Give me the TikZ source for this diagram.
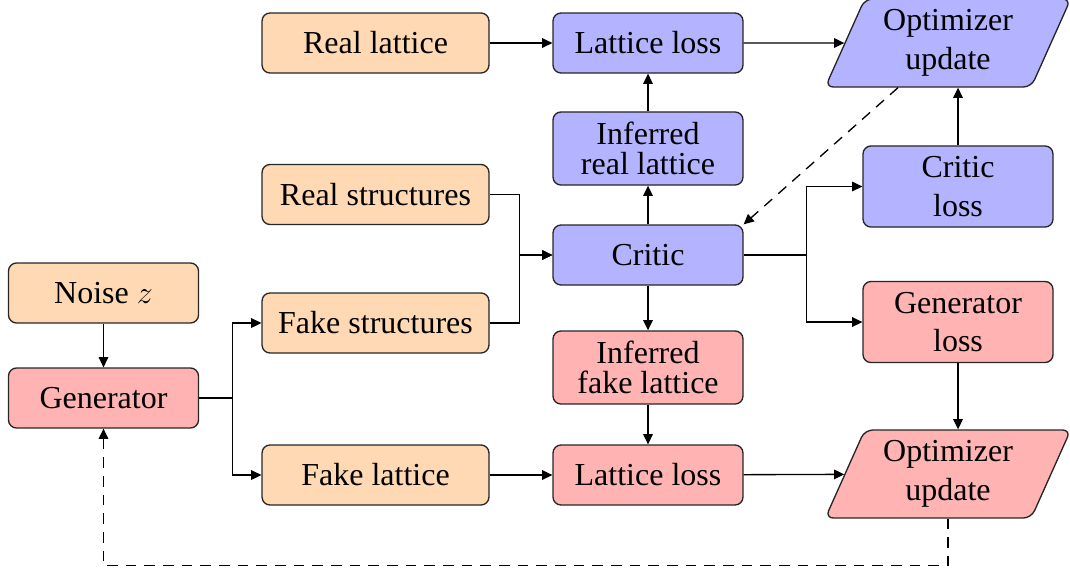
\documentclass[tikz,border=0pt]{standalone}
\usepackage{fontspec}
\setmainfont{Liberation Serif}
\usetikzlibrary{arrows.meta,shapes.geometric}

\definecolor{inbox}{RGB}{255,217,179}
\definecolor{critbox}{RGB}{179,179,255}
\definecolor{genbox}{RGB}{255,179,179}

\tikzset{
  base/.style={draw=black!85, line width=0.5pt, rounded corners=3pt, align=center,
    font=\fontsize{12pt}{14.5pt}\selectfont, inner sep=2pt},
  wide/.style={base, minimum width=85.1pt, minimum height=22.5pt},
  mid/.style={base, minimum width=71.25pt, minimum height=22.5pt},
  tall/.style={base, minimum width=71.25pt, minimum height=27.4pt},
  taller/.style={base, minimum width=71.25pt, minimum height=30.4pt},
  inp/.style={fill=inbox},
  crit/.style={fill=critbox},
  gen/.style={fill=genbox},
  optbox/.style={base, trapezium, trapezium left angle=63, trapezium right angle=117,
    trapezium stretches body, minimum width=92pt, minimum height=33pt},
  conn/.style={line width=0.5pt, -{Triangle[length=3.8pt,width=3.6pt]}},
  fb/.style={conn, dashed, dash pattern=on 4pt off 3pt}
}

\begin{document}
\begin{tikzpicture}[x=0.375pt, y=-0.375pt]
\useasboundingbox (0,0) rectangle (1070,575);

% input column
\node[mid, inp] (noise) at (103.5,293) {Noise $z$};
\node[mid, gen] (gnet) at (103.5,398) {Generator};

% data column
\node[wide, inp] (rlat) at (375.5,43) {Real lattice};
\node[wide, inp] (rstr) at (375.5,194.5) {Real structures};
\node[wide, inp] (fstr) at (375.5,323) {Fake structures};
\node[wide, inp] (flat) at (375.5,475) {Fake lattice};

% critic column
\node[mid, crit] (llossr) at (648,43) {Lattice loss};
\node[tall, crit] (infr) at (648,148.5) {Inferred\\[-3pt]real lattice};
\node[mid, crit] (critic) at (648,255) {Critic};
\node[tall, gen] (inff) at (648,367.5) {Inferred\\[-3pt]fake lattice};
\node[mid, gen] (llossf) at (648,475) {Lattice loss};

% losses and updates
\node[taller, crit] (closs) at (958,186.5) {Critic\\loss};
\node[taller, gen] (gloss) at (958,322) {Generator\\loss};
\node[optbox, crit] (optc) at (948,43) {Optimizer\\update};
\node[optbox, gen] (optg) at (948,474) {Optimizer\\update};

% generator path
\draw[conn] (noise) -- (gnet);
\draw[conn] (gnet.east) -- ++(33,0) |- (fstr.west);
\draw[conn] (gnet.east) -- ++(33,0) |- (flat.west);

% into the critic
\draw[conn] (rstr.east) -- ++(30,0) |- (critic.west);
\draw[conn] (fstr.east) -- ++(30,0) |- (critic.west);
\draw[conn] (critic) -- (infr);
\draw[conn] (critic) -- (inff);
\draw[conn] (critic.east) -- ++(63,0) |- (closs.west);
\draw[conn] (critic.east) -- ++(63,0) |- (gloss.west);

% lattice losses
\draw[conn] (rlat) -- (llossr);
\draw[conn] (infr) -- (llossr);
\draw[conn] (flat) -- (llossf);
\draw[conn] (inff) -- (llossf);

% optimizer steps
\draw[conn] (llossr) -- (optc);
\draw[conn] (llossf) -- (optg);
\draw[conn] (closs.north) -- (closs.north |- optc.south);
\draw[conn] (gloss.south) -- (gloss.south |- optg.north);

% parameter feedback
\draw[fb] ([xshift=-18.75pt]optc.south) -- (critic.north east);
\draw[fb] (optg.south) -- ++(0,47) -| (gnet.south);
\end{tikzpicture}
\end{document}
